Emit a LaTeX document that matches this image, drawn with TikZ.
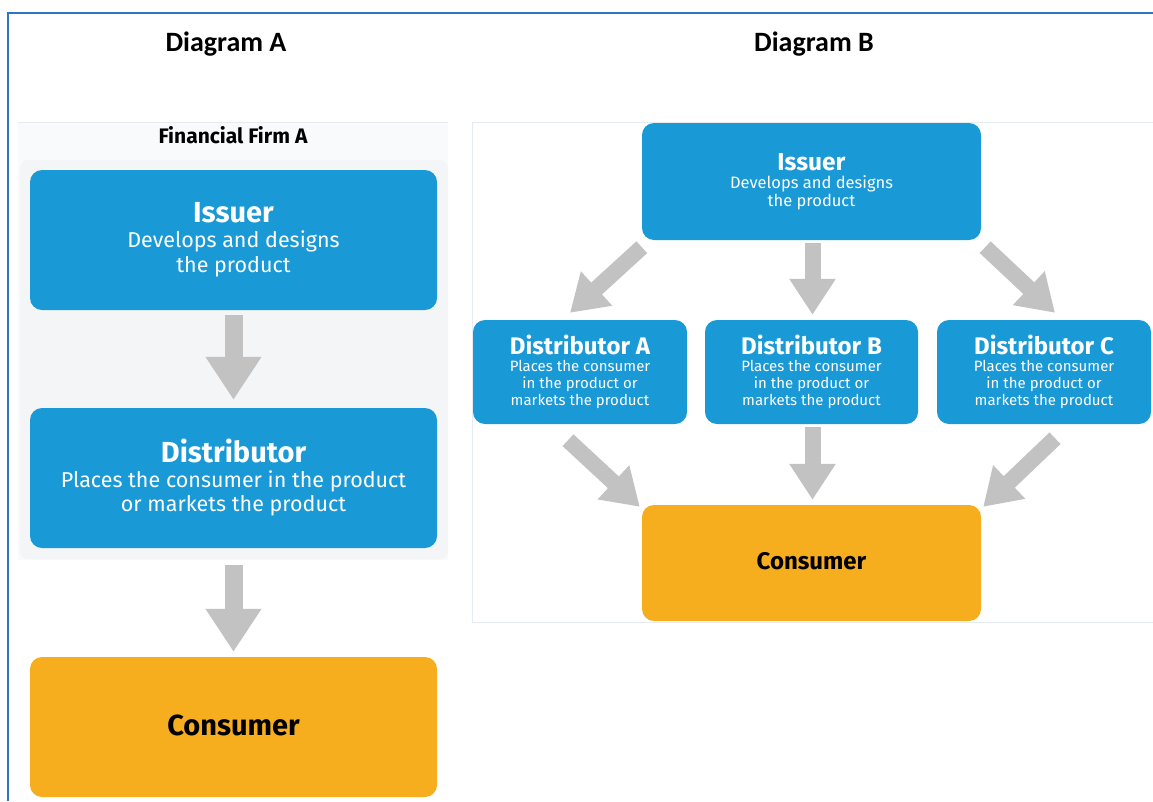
\documentclass[tikz,border=0pt]{standalone}
\usepackage{fontspec}
\setmainfont{Fira Sans}
\newfontfamily\headfont{Carlito}
\usetikzlibrary{arrows.meta,calc}
\definecolor{boxblue}{RGB}{25,153,214}
\definecolor{boxorange}{RGB}{246,174,30}
\definecolor{arrowgray}{RGB}{194,194,194}
\definecolor{borderblue}{RGB}{46,117,196}
\definecolor{panelgray}{RGB}{249,250,251}
\definecolor{innergray}{RGB}{244,245,247}
\definecolor{panelline}{RGB}{228,235,242}
\begin{document}
\begin{tikzpicture}[x=1pt,y=-1pt,
  bluebox/.style={rectangle, rounded corners=12pt, fill=boxblue, text=white, inner sep=0pt, align=center},
  orangebox/.style={rectangle, rounded corners=12pt, fill=boxorange, text=black, inner sep=0pt, align=center},
  bigarrow/.style={draw=arrowgray, line width=18pt, -{Triangle[length=43pt,width=53pt]}},
  smallarrow/.style={draw=arrowgray, line width=16pt, -{Triangle[length=36pt,width=44pt]}},
  heading/.style={font=\headfont\bfseries\fontsize{28}{28}\selectfont, text=black, inner sep=0pt}
]
\useasboundingbox (0,0) rectangle (1153,801);
\fill[white] (0,0) rectangle (1153,801);

% frame
\draw[borderblue, line width=2pt] (8,801) -- (8,13) -- (1153,13);

% headings
\node[heading] (hA) at (226,44) {Diagram A};
\node[heading] (hB) at (814,44) {Diagram B};

% left panel background
\fill[panelgray] (18,122) rectangle (448,560);
\draw[panelline, line width=1pt] (18,122) -- (448,122);
\fill[innergray, rounded corners=8pt] (20,160) rectangle (448,559);
\node[font=\bfseries\fontsize{21}{21}\selectfont, inner sep=0pt] (firm) at (233,135) {Financial Firm A};

% right panel background
\draw[panelline, line width=0.8pt, fill=white] (472,122) rectangle (1153,622);

% Diagram A boxes
\node[bluebox, minimum width=407pt, minimum height=140pt, font=\fontsize{21.5}{25}\selectfont] (issA) at (233.5,240)
  {{\bfseries\fontsize{29}{29}\selectfont Issuer}\\Develops and designs\\the product};
\node[bluebox, minimum width=407pt, minimum height=140pt, font=\fontsize{21.5}{24.5}\selectfont] (disA) at (233.5,478)
  {{\bfseries\fontsize{29}{29}\selectfont Distributor}\\Places the consumer in the product\\or markets the product};
\node[orangebox, minimum width=407pt, minimum height=140pt, font=\bfseries\fontsize{29}{29}\selectfont] (conA) at (233.5,727)
  {\raisebox{4pt}{Consumer}};

\draw[bigarrow, shorten <=5pt, shorten >=8pt] (issA.south) -- (disA.north);
\draw[bigarrow, shorten <=17pt, shorten >=5pt] (disA.south) -- (conA.north);

% Diagram B boxes
\node[bluebox, minimum width=339pt, minimum height=117pt, font=\fontsize{16.5}{18}\selectfont] (issB) at (811.5,181.5)
  {{\bfseries\fontsize{24.5}{24.5}\selectfont Issuer}\\Develops and designs\\the product};
\node[bluebox, minimum width=214pt, minimum height=104pt, font=\fontsize{15}{17}\selectfont] (dA) at (580,372)
  {{\bfseries\fontsize{24}{24}\selectfont Distributor A}\\Places the consumer\\in the product or\\markets the product};
\node[bluebox, minimum width=213pt, minimum height=104pt, font=\fontsize{15}{17}\selectfont] (dB) at (811.5,372)
  {{\bfseries\fontsize{24}{24}\selectfont Distributor B}\\Places the consumer\\in the product or\\markets the product};
\node[bluebox, minimum width=214pt, minimum height=104pt, font=\fontsize{15}{17}\selectfont] (dC) at (1044,372)
  {{\bfseries\fontsize{24}{24}\selectfont Distributor C}\\Places the consumer\\in the product or\\markets the product};
\node[orangebox, minimum width=339pt, minimum height=116pt, font=\bfseries\fontsize{24}{24}\selectfont] (conB) at (811.5,563)
  {\raisebox{4pt}{Consumer}};

% arrow end points
\coordinate (t1) at ($(issB.south west)+(0,7)$);
\coordinate (h1) at ($(dA.north)+(-10,-7)$);
\coordinate (t2) at ($(issB.south east)+(4,7)$);
\coordinate (h2) at ($(dC.north)+(11,-7)$);
\coordinate (t3) at ($(dA.south)+(-12,16)$);
\coordinate (h3) at ($(conB.north west)+(-2,2)$);
\coordinate (t4) at ($(dC.south)+(11,14)$);
\coordinate (h4) at ($(conB.north east)+(2,2)$);

\draw[smallarrow] (t1) -- (h1);
\draw[smallarrow] (t2) -- (h2);
\draw[smallarrow, shorten <=3pt, shorten >=5pt] ($(issB.south)+(1,0)$) -- ($(dB.north)+(1,0)$);
\draw[smallarrow] (t3) -- (h3);
\draw[smallarrow] (t4) -- (h4);
\draw[smallarrow, shorten <=3pt, shorten >=5pt] ($(dB.south)+(1,0)$) -- ($(conB.north)+(1,0)$);
\end{tikzpicture}
\end{document}
